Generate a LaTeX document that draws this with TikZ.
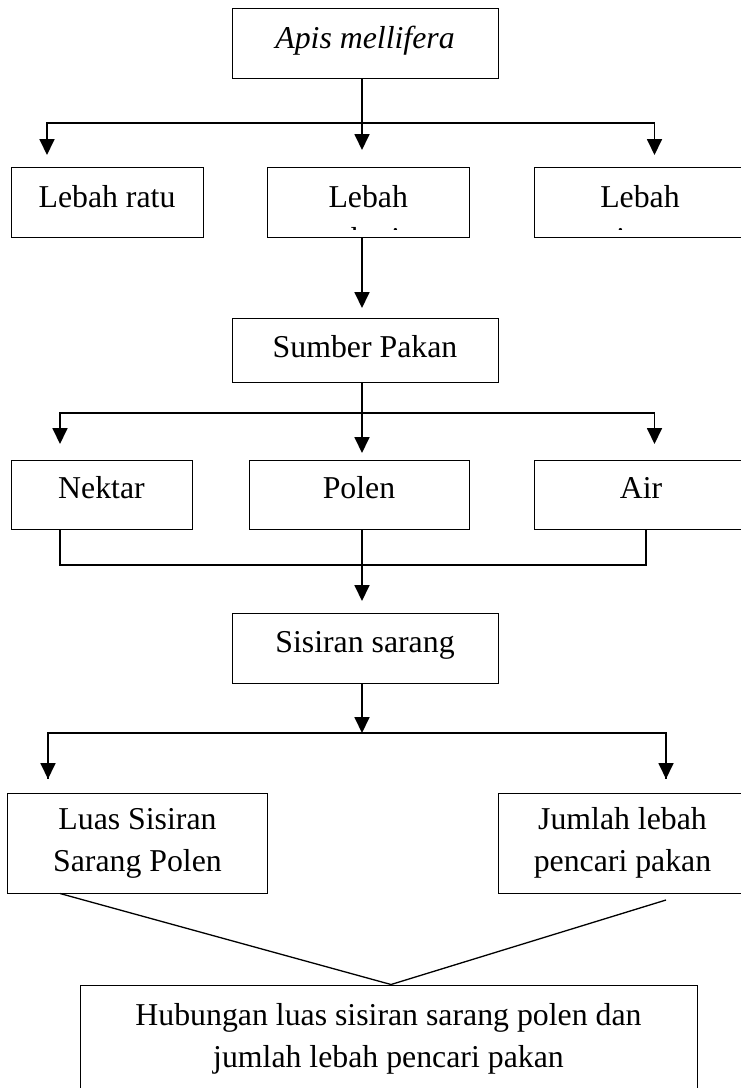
\documentclass[tikz,border=0pt]{standalone}
\usepackage{fontspec}
\setmainfont{Liberation Serif}
\usetikzlibrary{arrows.meta}
\begin{document}
\begin{tikzpicture}[x=1pt,y=-1pt,
  fs/.style={font=\fontsize{31.8pt}{42pt}\selectfont},
  box/.style={draw, line width=1pt, inner sep=0pt, fs, text height=22pt, text depth=#1},
  box/.default=12pt,
  tbox/.style={draw, line width=1pt, inner sep=0pt, fs, align=center},
  conn/.style={line width=1.8pt},
  arr/.style={conn, -{Triangle[length=16pt,width=15pt]}},
  slant/.style={line width=1.3pt}]
\useasboundingbox (0,0) rectangle (741,1088);
\clip (0,0) rectangle (741,1088);

% boxes
\node[box=12.4pt, minimum width=266pt, minimum height=70pt] (apis) at (365,43.3) {\itshape Apis mellifera};
\node[box=12pt, minimum width=192pt, minimum height=70pt] (ratu) at (107,202) {Lebah ratu};
\node[box=12pt, minimum width=201.5pt, minimum height=70pt] (kerja) at (368.25,202) {Lebah};
\node[box=12pt, minimum width=212pt, minimum height=70pt] (jantan) at (640,202) {Lebah};
\begin{scope}
  \clip (260,167) rectangle (741,229);
  \node[fs, anchor=base, inner sep=0pt] (kerja2) at (367.4,249) {pekerja};
  \node[fs, anchor=base, inner sep=0pt] (jantan2) at (640,249) {pejantan};
\end{scope}
\node[box=8pt, minimum width=266pt, minimum height=64pt] (pakan) at (365,350) {Sumber Pakan};
\node[box=15pt, minimum width=181pt, minimum height=69pt] (nektar) at (101.5,494.5) {Nektar};
\node[box=15pt, minimum width=220pt, minimum height=69pt] (polen) at (359,494.5) {Polen};
\node[box=15pt, minimum width=214pt, minimum height=69pt] (air) at (641,494.5) {Air};
\node[box=14pt, minimum width=266pt, minimum height=70pt] (sisiran) at (365,648) {Sisiran sarang};
\node[tbox, minimum width=260pt, minimum height=100pt] (luas) at (137.5,843) {Luas Sisiran\\Sarang Polen};
\node[tbox, minimum width=247.8pt, minimum height=100pt] (jumlah) at (622.5,843) {Jumlah lebah\\pencari pakan};
\node[tbox, minimum width=617pt, minimum height=107pt] (hub) at (388.5,1038.5) {Hubungan luas sisiran sarang polen dan\\jumlah lebah pencari pakan};

% level 1
\coordinate (j1) at (362,123);
\coordinate (t1l) at (47,155);
\coordinate (t1m) at (362,150);
\coordinate (t1r) at (654.5,155);
\draw[arr] (apis.south -| j1) -- (t1m);
\draw[arr] (j1) -| (t1l);
\draw[arr] (j1) -| (t1r);

% level 2
\coordinate (t2) at (362,308);
\draw[arr] (kerja.south -| t2) -- (t2);

% level 3
\coordinate (j3) at (362,413);
\coordinate (t3l) at (60,444);
\coordinate (t3m) at (362,453);
\coordinate (t3r) at (654.5,444);
\draw[arr] (pakan.south -| j3) -- (t3m);
\draw[arr] (j3) -| (t3l);
\draw[arr] (j3) -| (t3r);

% merge
\coordinate (c4l) at (60,565);
\coordinate (c4r) at (646,565);
\coordinate (t4) at (362,601);
\draw[conn] (nektar.south -| c4l) -- (c4l) -- (c4r) -- (air.south -| c4r);
\draw[arr] (polen.south -| t4) -- (t4);

% level 5
\coordinate (j5) at (362,733);
\coordinate (t5l) at (48,779);
\coordinate (t5r) at (666,779);
\draw[conn] (j5) -| (t5l);
\draw[conn] (j5) -| (t5r);
\draw[arr] (j5) -| (t5l);
\draw[arr] (j5) -| (t5r);
\draw[arr] (sisiran.south -| j5) -- (j5);

% converge
\coordinate (s6l) at (60,893);
\coordinate (s6r) at (666,900);
\coordinate (m6) at (391,985);
\draw[slant] (luas.south -| s6l) -- (hub.north -| m6) -- (s6r);
\end{tikzpicture}
\end{document}
